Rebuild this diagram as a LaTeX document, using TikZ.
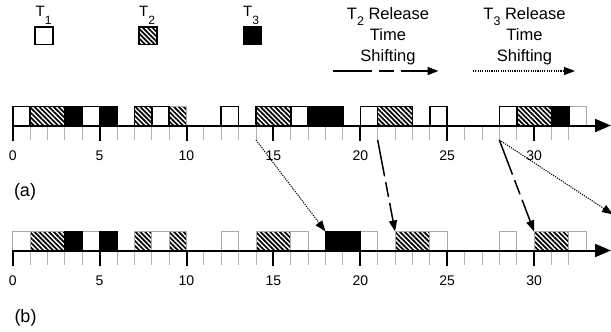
\documentclass[tikz,border=0pt]{standalone}
\usepackage{fontspec}
\setmainfont{Liberation Sans}
\usetikzlibrary{arrows.meta,patterns.meta}
\definecolor{gbord}{RGB}{170,170,170}
\definecolor{gtick}{RGB}{180,180,180}
\begin{document}
\begin{tikzpicture}[x=1pt,y=-1pt,
  hatch/.style={pattern={Lines[angle=-45,distance=3.4pt,line width=1.7pt]}},
  blkline/.style={draw=black,line width=1.6pt},
  grayline/.style={draw=gbord,line width=0.9pt},
  axisline/.style={line width=2pt,-{Triangle[length=16pt,width=13pt]}},
  majtick/.style={line width=2pt},
  mintick/.style={draw=gtick,line width=0.9pt},
  ticklabel/.style={font=\fontsize{14}{14}\selectfont,inner sep=0pt},
  tlab/.style={font=\fontsize{15}{15}\selectfont,inner sep=0pt,anchor=base west},
  legtext/.style={font=\fontsize{16.5}{21}\selectfont,align=center,inner sep=0pt},
  rowlab/.style={font=\fontsize{18}{18}\selectfont,inner sep=0pt},
  tip/.style={-{Triangle[length=11pt,width=8pt]}},
  shiftTwo/.style={tip,line width=1.5pt,dash pattern=on 37pt off 6pt on 15pt off 6pt},
  shiftThree/.style={tip,line width=1.1pt,dash pattern=on 1.1pt off 1.2pt}
]
\useasboundingbox (0,0) rectangle (611,332);
\def\xo{12.7}
\def\tu{17.38}
\def\ya{125.5}
\def\yb{250.5}
\def\bh{19}

% ---------- legend ----------
\node[tlab] (lt1) at (35.5,16.5) {T\raisebox{-7.5pt}{\fontsize{12}{12}\selectfont 1}};
\node[tlab] (lt2) at (139,16.5) {T\raisebox{-7.5pt}{\fontsize{12}{12}\selectfont 2}};
\node[tlab] (lt3) at (243,16.5) {T\raisebox{-7.5pt}{\fontsize{12}{12}\selectfont 3}};
\draw[blkline,fill=white] (35,26.7) rectangle (52.7,44.3);
\draw[blkline,hatch] (138.8,26.7) rectangle (156.8,44.3);
\draw[blkline,fill=black] (243.5,26.7) rectangle (261.2,44.3);

\node[legtext] (lg2) at (388,36) {T\raisebox{-6pt}{\fontsize{12.5}{12.5}\selectfont 2} Release\\Time\\Shifting};
\node[legtext] (lg3) at (524.5,36) {T\raisebox{-6pt}{\fontsize{12.5}{12.5}\selectfont 3} Release\\Time\\Shifting};
\coordinate (l2s) at (333,71);
\coordinate (l2e) at (438.5,71);
\coordinate (l3s) at (473,71);
\coordinate (l3e) at (575,71);
\draw[tip,line width=1.5pt,dash pattern=on 39pt off 7pt on 15pt off 7pt] (l2s) -- (l2e);
\draw[shiftThree] (l3s) -- (l3e);

% ---------- row (a) ----------
\path[hatch] ({\xo+\tu*9},\ya) rectangle ({\xo+\tu*10},{\ya-\bh});
\draw[grayline] ({\xo+\tu*9},\ya) rectangle ({\xo+\tu*10},{\ya-\bh});
\draw[grayline,fill=white] ({\xo+\tu*32},\ya) rectangle ({\xo+\tu*33},{\ya-\bh});
\foreach \s in {0,4,8,12,16,20,24,28}
  \draw[blkline,fill=white] ({\xo+\tu*\s},\ya) rectangle ({\xo+\tu*(\s+1)},{\ya-\bh});
\foreach \s/\e in {1/3,7/8,14/16,21/23,29/31}
  \draw[blkline,hatch] ({\xo+\tu*\s},\ya) rectangle ({\xo+\tu*\e},{\ya-\bh});
\foreach \s/\e in {3/4,5/6,17/19,31/32}
  \draw[blkline,fill=black] ({\xo+\tu*\s},\ya) rectangle ({\xo+\tu*\e},{\ya-\bh});

% ---------- row (b) ----------
\foreach \s in {0,4,8,12,16,20,24,28,32}
  \draw[grayline,fill=white] ({\xo+\tu*\s},\yb) rectangle ({\xo+\tu*(\s+1)},{\yb-\bh});
\foreach \s/\e in {1/3,7/8,9/10,14/16,22/24,30/32}
  \draw[grayline,hatch] ({\xo+\tu*\s},\yb) rectangle ({\xo+\tu*\e},{\yb-\bh});
\foreach \s/\e in {3/4,5/6,18/20}
  \draw[draw=black,line width=0.9pt,fill=black] ({\xo+\tu*\s},\yb) rectangle ({\xo+\tu*\e},{\yb-\bh});

% ---------- axes ----------
\foreach \y in {\ya,\yb}{
  \foreach \i in {0,...,32}{
    \pgfmathtruncatemacro\m{mod(\i,5)}
    \ifnum\m=0\relax
    \else
      \draw[mintick] ({\xo+\tu*\i},\y) -- ({\xo+\tu*\i},{\y+14});
    \fi
  }
}
\coordinate (a0) at (\xo,\ya);
\coordinate (aend) at (611,\ya);
\coordinate (b0) at (\xo,\yb);
\coordinate (bend) at (611,\yb);
\draw[axisline] (a0) -- (aend);
\draw[axisline] (b0) -- (bend);
\foreach \y in {\ya,\yb}
  \foreach \i in {0,5,...,30}
    \draw[majtick] ({\xo+\tu*\i},{\y-1}) -- ({\xo+\tu*\i},{\y+15});
\foreach \i in {0,5,...,30}{
  \node[ticklabel] (la\i) at ({\xo+\tu*\i},155.5) {\i};
  \node[ticklabel] (lb\i) at ({\xo+\tu*\i},280.5) {\i};
}

\node[rowlab] (rowa) at (25,192) {(a)};
\node[rowlab] (rowb) at (25.5,318) {(b)};

% ---------- shifting arrows ----------
\coordinate (s14) at ({\xo+\tu*14},140);
\coordinate (s21) at ({\xo+\tu*21},140);
\coordinate (s28) at ({\xo+\tu*28},140);
\coordinate (t18) at ({\xo+\tu*18},{\yb-\bh});
\coordinate (t22) at ({\xo+\tu*22},{\yb-\bh});
\coordinate (t30) at ({\xo+\tu*30},{\yb-\bh});
\coordinate (t36) at (613,214.5);
\draw[shiftThree] (s14) -- (t18);
\draw[shiftTwo] (s21) -- (t22);
\draw[shiftTwo] (s28) -- (t30);
\draw[shiftThree] (s28) -- (t36);
\end{tikzpicture}
\end{document}
